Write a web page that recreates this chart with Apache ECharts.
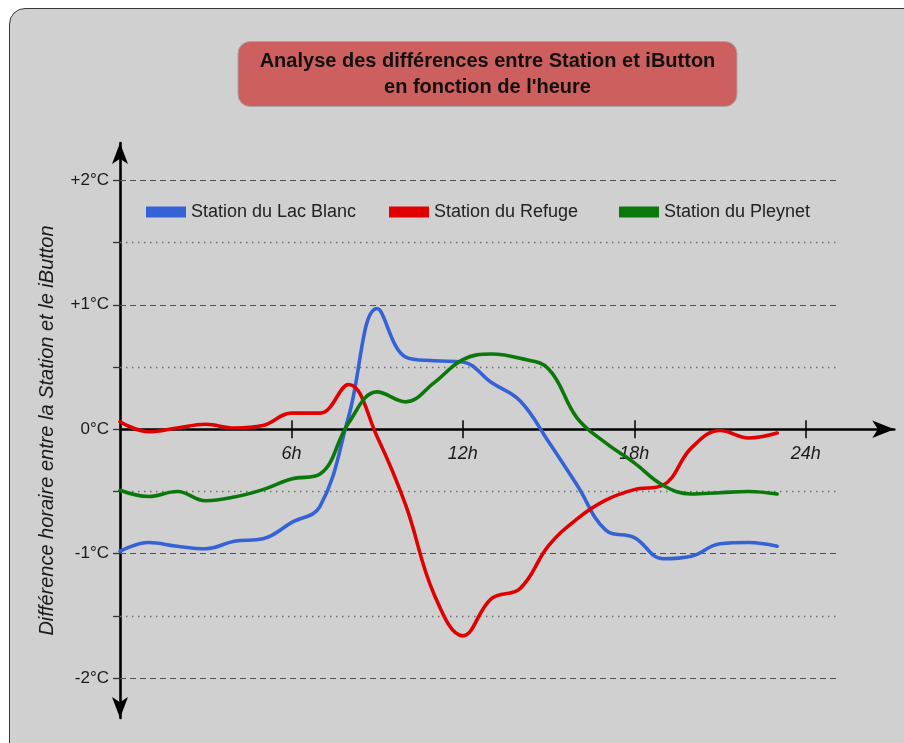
<!DOCTYPE html>
<html lang="fr">
<head>
<meta charset="utf-8">
<title>Station vs iButton</title>
<script src="https://cdn.jsdelivr.net/npm/echarts@6/dist/echarts.min.js"></script>
<style>
  html, body { margin: 0; padding: 0; background: #ffffff; overflow: hidden; }
  #frame {
    position: absolute; left: 9px; top: 8px; width: 940px; height: 780px;
    background: #d0d0d0; border: 1.5px solid #3a3a3a; border-radius: 16px;
  }
  #chart { position: absolute; left: 0; top: 0; width: 904px; height: 743px; }
</style>
</head>
<body>
<div id="frame"></div>
<div id="chart"></div>
<script>
// Hourly differences (°C) between each weather station and its iButton logger
const hours = [0, 1, 2, 3, 4, 5, 6, 7, 8, 9, 10, 11, 12, 13, 14, 15, 16, 17, 18, 19, 20, 21, 22, 23];
const lacBlanc = [-0.98, -0.91, -0.94, -0.96, -0.90, -0.88, -0.75, -0.62, 0.10, 0.97, 0.58, 0.55,
                  0.54, 0.375, 0.23, -0.10, -0.45, -0.81, -0.87, -1.04, -1.02, -0.92, -0.91, -0.94];
const refuge = [0.06, -0.02, 0.01, 0.04, 0.01, 0.03, 0.13, 0.13, 0.36, -0.06, -0.61, -1.33,
                -1.66, -1.36, -1.28, -0.935, -0.72, -0.57, -0.485, -0.45, -0.15, -0.01, -0.07, -0.03];
const pleynet = [-0.49, -0.54, -0.50, -0.575, -0.545, -0.485, -0.40, -0.36, 0.05, 0.30, 0.22, 0.375,
                 0.56, 0.605, 0.57, 0.485, 0.09, -0.11, -0.27, -0.45, -0.52, -0.51, -0.50, -0.52];

const seriesNames = ['Station du Lac Blanc', 'Station du Refuge', 'Station du Pleynet'];
const seriesColors = ['#3563d6', '#e00000', '#0b780b'];

// Axis ticks and labels
const xTickValues = [6, 12, 18, 24];
const yLabelValues = [-2, -1, 0, 1, 2];
const yTickValues = [-2, -1.5, -1, -0.5, 0, 0.5, 1, 1.5, 2];
const yDashedLines = [-2, -1, 1, 2];
const yDottedLines = [-1.5, -0.5, 0.5, 1.5];
const gridLineEnd = 25.2;

const titleText = "Analyse des différences entre Station et iButton\nen fonction de l'heure";
const yAxisName = 'Différence horaire entre la Station et le iButton';

const font = "'Liberation Sans', Arial, sans-serif";

// Axis extents (the arrows sit at the ends of the axis lines)
const xMin = 0, xMax = 27.1;
const yMin = -2.32, yMax = 2.3;
const gridTop = 143, gridHeight = 575, gridLeft = 120, gridRight = 9.7;
// shift the hour axis up from the bottom of the grid to the 0°C level
const xAxisOffset = -(0 - yMin) / (yMax - yMin) * gridHeight;

function yLabel(v) {
  if (v > 0) return '+' + v + '°C';
  return v + '°C';
}

function guideLines(values, style) {
  return values.map(v => [
    { coord: [0, v], lineStyle: style },
    { coord: [gridLineEnd, v] }
  ]);
}

const dashedStyle = { color: '#505050', width: 1.2, type: [6, 4] };
const dottedStyle = { color: '#6e6e6e', width: 1.3, type: [1.5, 4.5] };

const chart = echarts.init(document.getElementById('chart'), null, { renderer: 'canvas' });

const dataSeries = [lacBlanc, refuge, pleynet].map((vals, i) => ({
  name: seriesNames[i],
  type: 'line',
  xAxisIndex: 0,
  yAxisIndex: 0,
  data: hours.map((h, k) => [h, vals[k]]),
  smooth: 0.4,
  showSymbol: false,
  symbol: 'none',
  z: 5,
  lineStyle: { width: 3.6, color: seriesColors[i], cap: 'round' },
  itemStyle: { color: seriesColors[i] },
  emphasis: { disabled: true }
}));

const legendLefts = [146, 389, 619];
const legends = seriesNames.map((name, i) => ({
  left: legendLefts[i],
  top: 203,
  padding: 0,
  icon: 'rect',
  itemWidth: 40,
  itemHeight: 11,
  data: [name],
  textStyle: { fontFamily: font, fontSize: 18, color: '#222' },
  selectedMode: false
}));

const hourAxisBase = {
  type: 'value',
  min: xMin,
  max: xMax,
  position: 'bottom',
  offset: xAxisOffset,
  splitLine: { show: false }
};

chart.setOption({
  animation: false,
  backgroundColor: 'transparent',
  textStyle: { fontFamily: font },
  title: {
    text: titleText,
    left: 465.5,
    top: 41,
    textAlign: 'center',
    padding: [7, 22, 7, 22],
    backgroundColor: '#cd5f5f',
    borderColor: '#a8a8a8',
    borderWidth: 1,
    borderRadius: 12,
    textStyle: {
      fontFamily: font,
      fontSize: 20,
      fontWeight: 'bold',
      color: '#111',
      lineHeight: 26
    }
  },
  legend: legends,
  grid: { left: gridLeft, right: gridRight, top: gridTop, height: gridHeight },
  xAxis: [
    Object.assign({}, hourAxisBase, {
      axisLine: {
        onZero: false,
        lineStyle: { color: '#000', width: 2.6 },
        symbol: ['none', 'arrow'],
        symbolSize: [13, 22]
      },
      axisTick: { show: true, customValues: xTickValues, length: 9, lineStyle: { color: '#000', width: 1.5 } },
      axisLabel: {
        customValues: xTickValues,
        formatter: v => v + 'h',
        fontFamily: font,
        fontSize: 18,
        fontStyle: 'italic',
        color: '#1a1a1a',
        margin: 16
      }
    }),
    Object.assign({}, hourAxisBase, {
      // upper half of the hour ticks
      axisLine: { show: false, onZero: false },
      axisTick: { show: true, inside: true, customValues: xTickValues, length: 9, lineStyle: { color: '#000', width: 1.5 } },
      axisLabel: { show: false }
    })
  ],
  yAxis: {
    type: 'value',
    min: yMin,
    max: yMax,
    name: yAxisName,
    nameLocation: 'middle',
    nameRotate: 90,
    nameGap: 63,
    nameTextStyle: { fontFamily: font, fontSize: 20, fontStyle: 'italic', color: '#1a1a1a' },
    axisLine: {
      onZero: false,
      lineStyle: { color: '#000', width: 2.6 },
      symbol: ['arrow', 'arrow'],
      symbolSize: [12, 21]
    },
    axisTick: { show: true, customValues: yTickValues, length: 7, lineStyle: { color: '#333', width: 1.3 } },
    axisLabel: {
      customValues: yLabelValues,
      formatter: yLabel,
      fontFamily: font,
      fontSize: 17,
      color: '#1a1a1a',
      margin: 11
    },
    splitLine: { show: false }
  },
  series: [
    {
      name: 'guides',
      type: 'line',
      xAxisIndex: 0,
      yAxisIndex: 0,
      data: [],
      silent: true,
      z: 1,
      markLine: {
        silent: true,
        symbol: ['none', 'none'],
        label: { show: false },
        emphasis: { disabled: true },
        data: guideLines(yDashedLines, dashedStyle).concat(guideLines(yDottedLines, dottedStyle))
      }
    }
  ].concat(dataSeries)
});
</script>
</body>
</html>
